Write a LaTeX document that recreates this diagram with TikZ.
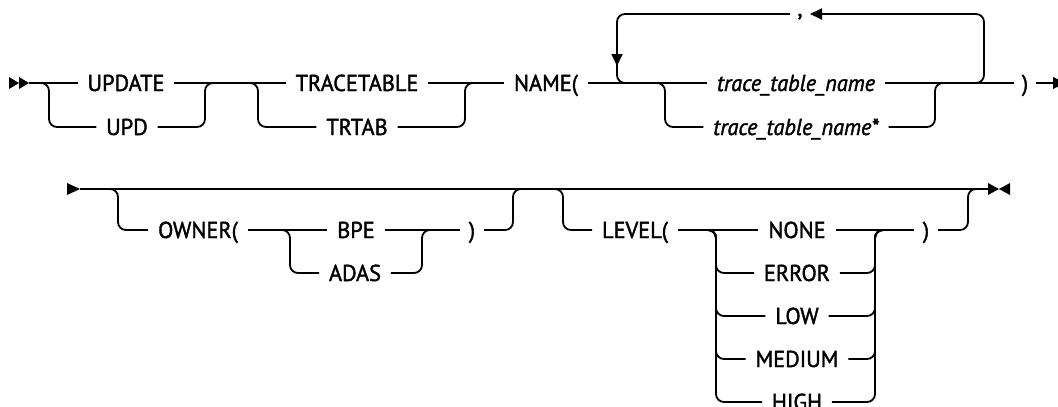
\documentclass[tikz,border=0pt]{standalone}
\usepackage{fontspec}
\setmainfont{PT Sans}[FakeBold=1.6,FakeStretch=0.97]
\usetikzlibrary{arrows.meta}
\begin{document}
\begin{tikzpicture}[x=1pt,y=-1pt,line width=1.8pt,
  lbl/.style={inner xsep=9pt,inner ysep=0pt,text height=16pt,text depth=0pt,font=\fontsize{23}{27}\selectfont},
  ital/.style={lbl,font=\fontsize{23}{27}\selectfont\itshape},
  conn/.style={rounded corners=8pt},
  tipfill/.style={fill=black,draw=none},
  arr/.style={-{Triangle[length=12pt,width=11pt]}}]
\useasboundingbox (0,0) rectangle (1058,407);
% ---------- row 1 ----------
\fill[tipfill] (9,77) -- (19,83) -- (9,89) -- cycle;
\fill[tipfill] (19,77) -- (29,83) -- (19,89) -- cycle;
\coordinate (start) at (29,83);
\node[lbl] (update) at (126,83) {UPDATE};
\node[lbl] (upd) at (127,127) {UPD};
\node[lbl] (tracetable) at (357,83) {TRACETABLE};
\node[lbl] (trtab) at (357,127) {TRTAB};
\node[lbl] (name) at (546,83) {NAME(};
\node[ital] (ttn) at (796,83) {trace\_table\_name};
\node[ital] (tts) at (796,127) {trace\_table\_name*};
\node[lbl,inner xsep=7pt] (rp1) at (1025,83) {)};
\node[lbl,inner xsep=0pt] (comma) at (800,8) {,};
\coordinate (cont) at (1053,83);

\draw (start) -- (update.west);
\draw[conn] (start) -- (49,83) |- (upd.west);
\draw (update.east) -- (tracetable.west);
\draw[conn] (upd.east) -| (205,83) -- (215,83);
\draw[conn] (245,83) -- (258,83) |- (trtab.west);
\draw (tracetable.east) -- (name.west);
\draw[conn] (trtab.east) -| (465,83) -- (475,83);
\draw (name.east) -- (ttn.west);
% repeat loop
\draw[conn,arr] (970,83) -- (984,83) -- (984,14) -- (810,14);
\draw[conn] (790,14) -- (617,14) -- (617,83) -- (631,83);
\draw[arr] (617,40) -- (617,66);
% second choice
\draw[conn] (652,83) -- (665,83) |- (tts.west);
\draw[conn] (tts.east) -| (935,83) -- (945,83);
\draw (ttn.east) -- (rp1.west);
\draw (rp1.east) -- (cont);
\fill[tipfill] (cont) ++(0,-6) -- ++(12,6) -- ++(-12,6) -- cycle;
% ---------- row 2 ----------
\fill[tipfill] (67,183) -- (80,189) -- (67,195) -- cycle;
\coordinate (r2s) at (80,189);
\coordinate (r2e) at (988,189);
\draw (r2s) -- (r2e);
\fill[tipfill] (988,183) -- (999,189) -- (988,195) -- cycle;
\fill[tipfill] (1010,183) -- (999,189) -- (1010,195) -- cycle;

\node[lbl] (owner) at (198,230) {OWNER(};
\node[lbl] (bpe) at (356,230) {BPE};
\node[lbl] (adas) at (355,273) {ADAS};
\node[lbl,inner xsep=8pt] (rp2) at (472,230) {)};
\node[lbl] (level) at (635,230) {LEVEL(};
\node[lbl] (none) at (797,230) {NONE};
\node[lbl] (error) at (797,273) {ERROR};
\node[lbl] (low) at (797,316) {LOW};
\node[lbl] (medium) at (797,359) {MEDIUM};
\node[lbl] (high) at (797,402) {HIGH};
\node[lbl,inner xsep=8pt] (rp3) at (926,230) {)};

\draw[conn] (r2s) -- (118,189) |- (owner.west);
\draw (owner.east) -- (bpe.west);
\draw[conn] (278,230) -- (290,230) |- (adas.west);
\draw (bpe.east) -- (rp2.west);
\draw[conn] (adas.east) -| (422,230) -- (432,230);
\draw[conn] (rp2.east) -| (513,189) -- (523,189);
\draw[conn] (550,189) -- (563,189) |- (level.west);
\draw (level.east) -- (none.west);
\foreach \n in {error,low,medium,high}{
  \draw[conn] (704,230) -- (716,230) |- (\n.west);
  \draw[conn] (\n.east) -| (875,230) -- (887,230);
}
\draw (none.east) -- (rp3.west);
\draw[conn] (rp3.east) -| (968,189) -- (978,189);
\end{tikzpicture}
\end{document}
